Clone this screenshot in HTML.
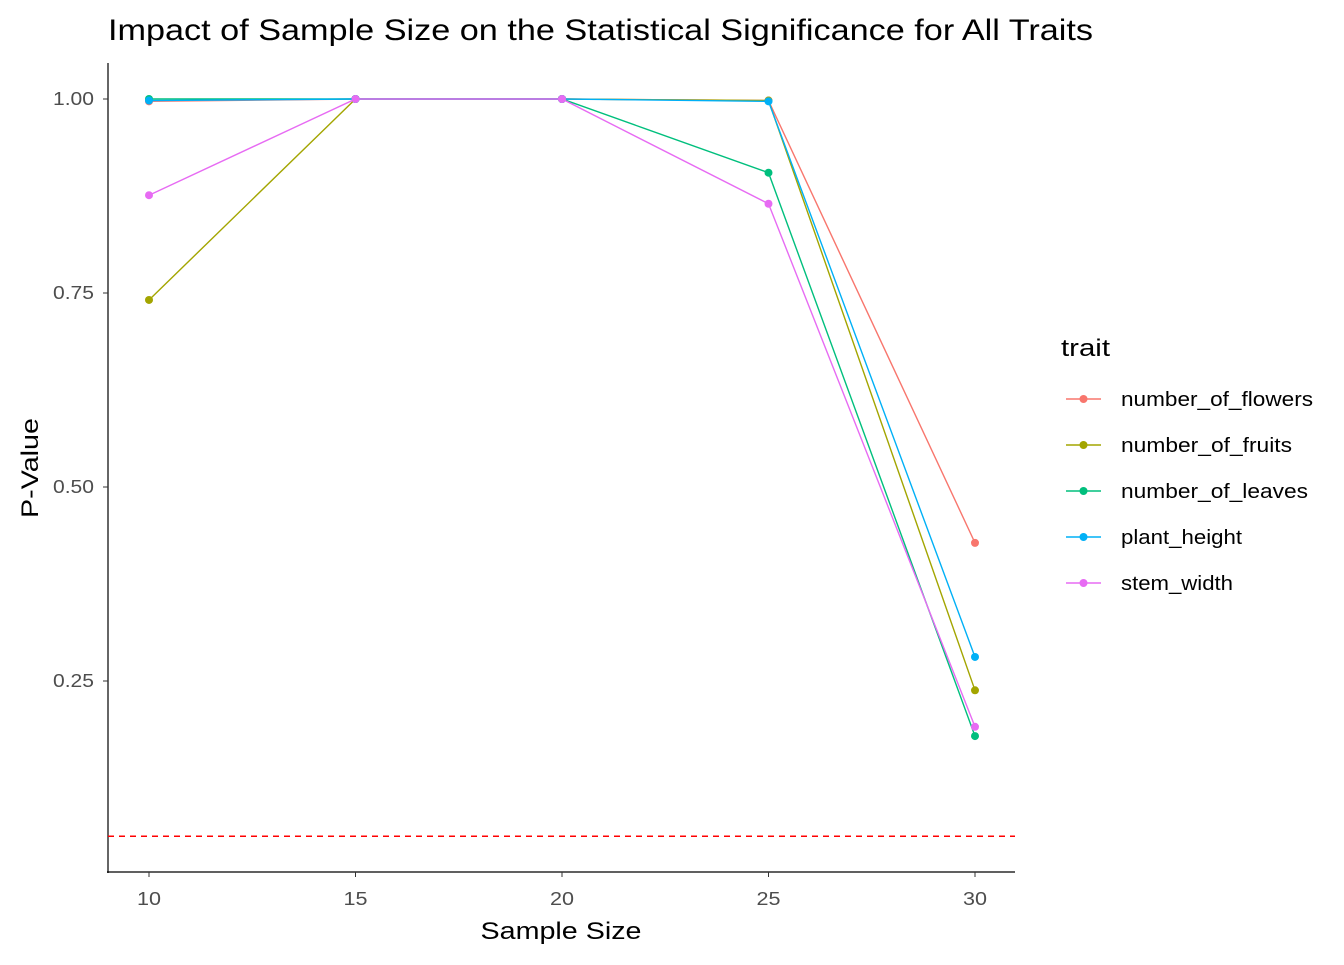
<!DOCTYPE html>
<html><head><meta charset="utf-8"><style>
body{margin:0;background:#fff;font-family:"Liberation Sans",Arial,sans-serif}
svg text{font-family:"Liberation Sans",Arial,sans-serif}
</style></head><body>
<svg id="chart" width="1344" height="960">
<text x="108" y="40" font-size="30" textLength="985" lengthAdjust="spacingAndGlyphs" fill="#000">Impact of Sample Size on the Statistical Significance for All Traits</text>
<g id="axes"></g>
<g id="series"></g>
<g id="legend"></g>
</svg>
<script>
const sampleSizes=[10,15,20,25,30];
const traits=["number_of_flowers","number_of_fruits","number_of_leaves","plant_height","stem_width"];
const flowers=[0.997,1.0,1.0,0.998,0.428];
const fruits=[0.741,1.0,1.0,0.998,0.238];
const leaves=[1.0,1.0,1.0,0.905,0.179];
const height=[0.998,1.0,1.0,0.997,0.281];
const stem=[0.876,1.0,1.0,0.865,0.191];
const xTicks=[10,15,20,25,30];
const yTicks=[0.25,0.5,0.75,1.0];
const yTickLabels=["0.25","0.50","0.75","1.00"];
const threshold=0.05;
const colors=["#F8766D","#A3A500","#00BF7D","#00B0F6","#E76BF3"];
const seriesData=[flowers,fruits,leaves,height,stem];
const NS="http://www.w3.org/2000/svg";
const X=v=>149+(v-10)*41.3;
const Y=v=>99+(1-v)*776;
function mk(t,a,p){const e=document.createElementNS(NS,t);for(const k in a)e.setAttribute(k,a[k]);p.appendChild(e);return e;}
const ax=document.getElementById('axes');
const yAxis=mk('line',{x1:108,y1:63,x2:108,y2:873,stroke:'#000','stroke-width':1.2},ax);


const xAxis=mk('line',{x1:107,y1:872,x2:1015,y2:872,stroke:'#000','stroke-width':1.2},ax);


yTicks.forEach((v,i)=>{
 mk('line',{x1:103,x2:108,y1:Y(v),y2:Y(v),stroke:'#333'},ax);
 const t=mk('text',{x:94,y:Y(v)+6,'text-anchor':'end','font-size':18,textLength:41,lengthAdjust:'spacingAndGlyphs',fill:'#4d4d4d'},ax);
 t.textContent=yTickLabels[i];
 
 
});
xTicks.forEach(v=>{
 mk('line',{x1:X(v),x2:X(v),y1:872,y2:877,stroke:'#333'},ax);
 const t=mk('text',{x:X(v),y:905,'text-anchor':'middle','font-size':18,textLength:24,lengthAdjust:'spacingAndGlyphs',fill:'#4d4d4d'},ax);
 t.textContent=v;
 
 
});
const xt=mk('text',{x:561,y:939,'text-anchor':'middle','font-size':24,textLength:161,lengthAdjust:'spacingAndGlyphs',fill:'#000'},ax);
xt.textContent="Sample Size";


const yt=mk('text',{x:0,y:0,transform:'translate(38,468) rotate(-90)','text-anchor':'middle','font-size':24,textLength:100,lengthAdjust:'spacingAndGlyphs',fill:'#000'},ax);
yt.textContent="P-Value";


const th=mk('line',{x1:108,x2:1015,y1:Y(threshold),y2:Y(threshold),stroke:'#FF0000','stroke-width':1.5,'stroke-dasharray':'6,5'},ax);


const sg=document.getElementById('series');
seriesData.forEach((arr,si)=>{
 const g=mk('g',{},sg);
 
 
 const pl=mk('polyline',{points:arr.map((v,i)=>X(sampleSizes[i])+','+Y(v)).join(' '),fill:'none',stroke:colors[si],'stroke-width':1.4},g);
 
 
 arr.forEach((v,i)=>{
  const c=mk('circle',{cx:X(sampleSizes[i]),cy:Y(v),r:4,fill:colors[si]},g);
  
  
 });
});
const legendWidths=[192,171,187,121,112];
const lg=document.getElementById('legend');
const lt=mk('text',{x:1061,y:356,'font-size':24,textLength:49,lengthAdjust:'spacingAndGlyphs',fill:'#000'},lg);
lt.textContent="trait";


traits.forEach((n,i)=>{
 const y=399+i*46;
 const g=mk('g',{},lg);
 
 
 mk('line',{x1:1066,x2:1101,y1:y,y2:y,stroke:colors[i],'stroke-width':1.4},g);
 mk('circle',{cx:1083.5,cy:y,r:4,fill:colors[i]},g);
 const t=mk('text',{x:1121,y:y+7,'font-size':20,textLength:legendWidths[i],lengthAdjust:'spacingAndGlyphs',fill:'#000'},g);
 t.textContent=n;
});
</script>
</body></html>
